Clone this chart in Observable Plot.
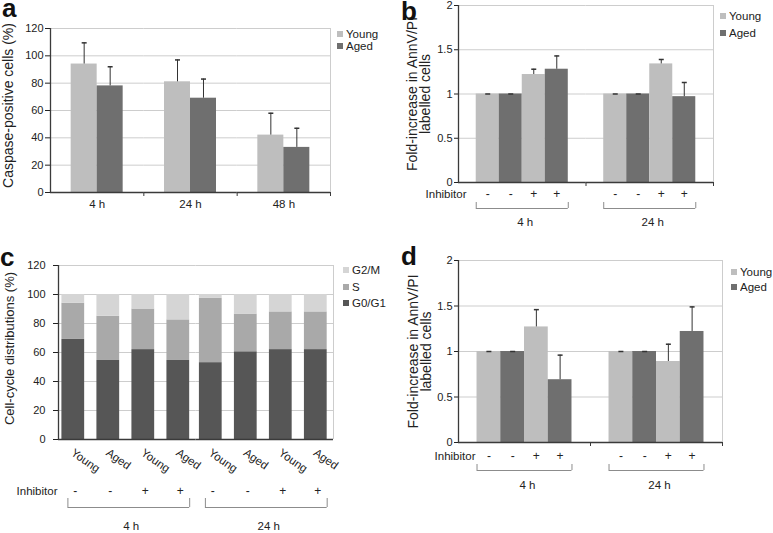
<!DOCTYPE html>
<html><head><meta charset="utf-8">
<script src="https://cdn.jsdelivr.net/npm/d3@7"></script>
<script src="https://cdn.jsdelivr.net/npm/@observablehq/plot@0.6"></script>
<style>
html,body{margin:0;padding:0;background:#fff;}
#fig{position:relative;width:773px;height:533px;overflow:hidden;background:#fff;font-family:"Liberation Sans",Arial,sans-serif;color:#222;}
.letter{position:absolute;font:bold 26px/17px "Liberation Sans",Arial,sans-serif;color:#111;}
.lg-swatches{font-family:"Liberation Sans",Arial,sans-serif;font-size:11.5px;color:#222;margin:0;}
.lg-swatch{padding-bottom:0;}
.lg-swatch > svg{margin-right:3px;}
</style></head>
<body><div id="fig"></div>
<script>
// ---------- data ----------
// Panel a
const aTimes = ["4 h", "24 h", "48 h"];
const aGroups = ["Young", "Aged"];
const aMeanYoung = [94, 81, 42];
const aErrYoung = [15.5, 16, 16];
const aMeanAged = [78, 69, 33];
const aErrAged = [14, 14, 14];
const aYTicks = [0, 20, 40, 60, 80, 100, 120];
const aYLabel = "Caspase-positive cells (%)";

// Panels b, d (4 conditions per time point)
const bTimes = ["4 h", "24 h"];
const bGroups = ["Young", "Aged", "Young", "Aged"];
const bInhibitor = ["-", "-", "+", "+"];
const bMean = [[1.00, 1.00, 1.22, 1.28], [1.00, 1.00, 1.34, 0.97]];
const bErr = [[0, 0, 0.06, 0.15], [0, 0, 0.05, 0.16]];
const dMean = [[1.00, 1.00, 1.27, 0.69], [1.00, 1.00, 0.89, 1.22]];
const dErr = [[0, 0, 0.19, 0.27], [0, 0, 0.19, 0.27]];
const bYTicks = [0, 0.5, 1, 1.5, 2];
const bYLabel = "Fold-increase in AnnV/PI\nlabelled cells";
const inhibitorLabel = "Inhibitor";

// Panel c (stacked cell-cycle distributions)
const cTimes = ["4 h", "24 h"];
const cGroups = ["Young", "Aged", "Young", "Aged"];
const cInhibitor = ["-", "-", "+", "+"];
const cPhases = ["G2/M", "S", "G0/G1"];
const cG0G1 = [69, 54.5, 62, 54.5, 53, 60.5, 62, 62];
const cS = [25, 30.5, 28, 28, 44.5, 26, 26, 26];
const cG2M = [6, 15, 10, 17.5, 2.5, 13.5, 12, 12];
const cYTicks = [0, 20, 40, 60, 80, 100, 120];
const cYLabel = "Cell-cycle distributions (%)";

// ---------- styles ----------
const FONT = '"Liberation Sans", Arial, sans-serif';
const C = {young: "#bebebe", aged: "#6f6f6f", g2m: "#d5d5d5", s: "#a9a9a9", g0: "#565656",
  grid: "#cdcdcd", axis: "#3a3a3a", err: "#333333", bracket: "#8c8c8c", text: "#222222"};
const fig = document.getElementById("fig");

function geom(width, ml, mr, nF, n, pi, po, align) {
  const F = (width - ml - mr) / nF;
  const step = F / (n - pi + 2 * po);
  const bw = step * (1 - pi);
  const start = (F - step * (n - pi)) * align;
  return {F, step, bw, leftDx: -(start + bw / 2), rightDx: F - start - (n - 1) * step - bw / 2};
}
const capSymbol = {draw(ctx, size) { const w = Math.sqrt(size / Math.PI); ctx.moveTo(-w, 0); ctx.lineTo(w, 0); }};
function place(el, left, top) { el.style.position = "absolute"; el.style.left = left + "px"; el.style.top = top + "px"; fig.appendChild(el); }
function addLegend(plot, left, top, rowH) {
  const L = plot.legend("color", {legend: "swatches", columns: 1, swatchSize: 6, className: "lg"});
  L.querySelectorAll(".lg-swatch").forEach(e => { e.style.height = rowH + "px"; e.style.paddingBottom = "0"; });
  place(L, left, top);
}
function letter(t, left, top) { const d = document.createElement("div"); d.className = "letter"; d.textContent = t; place(d, left, top); }
const baseStyle = {fontFamily: FONT, fontSize: "11px", color: C.text, background: "transparent", overflow: "visible"};
const mid = {lineAnchor: "middle"};

function axisMarks(times, keys, g, boundaryTicks) {
  const first = keys[0], last = keys[keys.length - 1];
  const m = [
    Plot.ruleY([0], {stroke: C.axis, strokeWidth: 1.3}),
    Plot.ruleX([first], {x: d => d, fx: () => times[0], dx: g.leftDx, stroke: C.axis, strokeWidth: 1.3})
  ];
  if (boundaryTicks) m.push(Plot.ruleX([last], {x: d => d, y1: 0, y2: 0, insetBottom: -4, dx: g.rightDx, stroke: C.axis}));
  return m;
}
function backMarks(times, keys, g, yTicks) {
  const last = keys[keys.length - 1];
  return [
    Plot.ruleY(yTicks.filter(v => v > 0), {stroke: C.grid}),
    Plot.ruleX([last], {x: d => d, fx: () => times[times.length - 1], dx: g.rightDx, stroke: C.grid})
  ];
}

// ---------- panel a ----------
const aData = [];
aTimes.forEach((t, i) => {
  aData.push({time: t, group: "Young", mean: aMeanYoung[i], err: aErrYoung[i]});
  aData.push({time: t, group: "Aged", mean: aMeanAged[i], err: aErrAged[i]});
});
{
  const W = 340, H = 215, ML = 50, MR = 10, MT = 28, MB = 23, PO = 0.795;
  const g = geom(W, ML, MR, 3, 2, 0, PO, 0.5);
  const plot = Plot.plot({
    width: W, height: H, marginLeft: ML, marginRight: MR, marginTop: MT, marginBottom: MB,
    style: baseStyle,
    fx: {domain: aTimes, padding: 0, round: false, axis: null, label: null},
    x: {domain: aGroups, paddingInner: 0, paddingOuter: PO, round: false, axis: null, label: null},
    y: {domain: [0, 120], ticks: aYTicks, tickSize: 5, tickPadding: 2, label: null, tickFormat: d => String(d)},
    color: {domain: aGroups, range: [C.young, C.aged]},
    marks: [
      ...backMarks(aTimes, aGroups, g, aYTicks),
      Plot.barY(aData, {fx: "time", x: "group", y: "mean", fill: "group"}),
      Plot.ruleX(aData, {fx: "time", x: "group", y1: "mean", y2: d => d.mean + d.err, stroke: C.err}),
      Plot.dot(aData, {fx: "time", x: "group", y: d => d.mean + d.err, symbol: capSymbol, r: 2.5, fill: "none", stroke: C.err}),
      ...axisMarks(aTimes, aGroups, g, true),
      Plot.text(aTimes, {fx: d => d, text: d => d, frameAnchor: "bottom", dy: 12, fontSize: 11.5, ...mid}),
      Plot.text([aYLabel], {fx: () => aTimes[0], text: d => d, frameAnchor: "left", textAnchor: "middle", rotate: -90, dx: -42, dy: -5, fontSize: 14, ...mid})
    ]
  });
  place(plot, 0, 0);
  addLegend(plot, 337, 28, 12);
}

// ---------- panels b and d ----------
function condData(means, errs) {
  const out = [];
  bTimes.forEach((t, ti) => bGroups.forEach((gr, i) => out.push({
    time: t, group: gr, inhibitor: bInhibitor[i], key: gr + " " + bInhibitor[i], mean: means[ti][i], err: errs[ti][i]})));
  return out;
}
const condKeys = bGroups.map((gr, i) => gr + " " + bInhibitor[i]);

function foldPlot(data, o) {
  const g = geom(o.W, o.ML, o.MR, 2, 4, 0, o.PO, 0.5);
  return Plot.plot({
    width: o.W, height: o.H, marginLeft: o.ML, marginRight: o.MR, marginTop: o.MT, marginBottom: o.MB,
    style: baseStyle,
    fx: {domain: bTimes, padding: 0, round: false, axis: null, label: null},
    x: {domain: condKeys, paddingInner: 0, paddingOuter: o.PO, round: false, axis: null, label: null},
    y: {domain: [0, 2], ticks: bYTicks, tickSize: 4, tickPadding: 2, label: null, tickFormat: d => String(d)},
    color: {domain: aGroups, range: [C.young, C.aged]},
    marks: [
      ...backMarks(bTimes, condKeys, g, bYTicks),
      Plot.barY(data, {fx: "time", x: "key", y: "mean", fill: "group"}),
      Plot.ruleX(data, {fx: "time", x: "key", y1: "mean", y2: d => d.mean + d.err, stroke: C.err}),
      Plot.dot(data, {fx: "time", x: "key", y: d => d.mean + d.err, symbol: capSymbol, r: 2.5, fill: "none", stroke: C.err}),
      ...axisMarks(bTimes, condKeys, g, true),
      Plot.text(data, {fx: "time", x: "key", text: "inhibitor", frameAnchor: "bottom", dy: o.signDy, fontSize: 12, ...mid}),
      Plot.text([inhibitorLabel], {fx: () => bTimes[0], text: d => d, frameAnchor: "bottom-left", textAnchor: "end", dx: o.inhDx, dy: o.signDy, fontSize: 11.5, ...mid}),
      Plot.ruleY([0], {x1: () => condKeys[0], x2: () => condKeys[3], dy: o.brDy, stroke: C.bracket}),
      Plot.ruleX([condKeys[0]], {x: d => d, y1: 0, y2: 0, insetBottom: -6, dx: -g.bw / 2, dy: o.brDy - 6, stroke: C.bracket}),
      Plot.ruleX([condKeys[3]], {x: d => d, y1: 0, y2: 0, insetBottom: -6, dx: g.bw / 2, dy: o.brDy - 6, stroke: C.bracket}),
      Plot.text(bTimes, {fx: d => d, text: d => d, frameAnchor: "bottom", dx: 3, dy: o.timeDy, fontSize: 11.5, ...mid}),
      Plot.text([bYLabel], {fx: () => bTimes[0], text: d => d, frameAnchor: "left", textAnchor: "middle", rotate: -90, dx: o.labDx, fontSize: 14, lineHeight: 0.93, ...mid})
    ]
  });
}
{
  const plot = foldPlot(condData(bMean, bErr), {W: 335, H: 235, ML: 68, MR: 12, MT: 5, MB: 53, PO: 0.77,
    signDy: 12, inhDx: 8, brDy: 26, timeDy: 40, labDx: -39});
  place(plot, 390, 0);
  addLegend(plot, 720, 7.5, 17);
}
{
  const plot = foldPlot(condData(dMean, dErr), {W: 345, H: 278, ML: 68, MR: 13, MT: 5, MB: 91, PO: 0.78,
    signDy: 14, inhDx: 17, brDy: 28, timeDy: 43, labDx: -38});
  place(plot, 390, 255);
  addLegend(plot, 731, 264.5, 15);
}

// ---------- panel c ----------
const cData = [];
cTimes.forEach((t, ti) => cGroups.forEach((gr, i) => {
  const j = ti * 4 + i;
  const key = gr + " " + cInhibitor[i];
  [["G0/G1", cG0G1[j]], ["S", cS[j]], ["G2/M", cG2M[j]]].forEach(([p, v]) =>
    cData.push({time: t, group: gr, inhibitor: cInhibitor[i], key, phase: p, value: v}));
}));
const cBars = cData.filter(d => d.phase === "G0/G1");
const cKeys = cGroups.map((gr, i) => gr + " " + cInhibitor[i]);
{
  const W = 340, H = 278, ML = 58, MR = 7, MT = 10, MB = 94, PI = 0.35, PO = 0.139, AL = 0.35;
  const g = geom(W, ML, MR, 2, 4, PI, PO, AL);
  const plot = Plot.plot({
    width: W, height: H, marginLeft: ML, marginRight: MR, marginTop: MT, marginBottom: MB,
    style: baseStyle,
    fx: {domain: cTimes, padding: 0, round: false, axis: null, label: null},
    x: {domain: cKeys, paddingInner: PI, paddingOuter: PO, align: AL, round: false, axis: null, label: null},
    y: {domain: [0, 120], ticks: cYTicks, tickSize: 5, tickPadding: 8, label: null, tickFormat: d => String(d)},
    color: {domain: cPhases, range: [C.g2m, C.s, C.g0]},
    marks: [
      ...backMarks(cTimes, cKeys, g, cYTicks),
      Plot.barY(cData, {fx: "time", x: "key", y: "value", fill: "phase"}),
      ...axisMarks(cTimes, cKeys, g, false),
      Plot.text(cBars, {fx: "time", x: "key", text: "group", frameAnchor: "bottom", rotate: 35, textAnchor: "start", dx: -1, dy: 12, fontSize: 11.5, ...mid}),
      Plot.text(cBars, {fx: "time", x: "key", text: "inhibitor", frameAnchor: "bottom", dx: 2, dy: 52, fontSize: 12, ...mid}),
      Plot.text([inhibitorLabel], {fx: () => cTimes[0], text: d => d, frameAnchor: "bottom-left", textAnchor: "end", dx: -1, dy: 52, fontSize: 11.5, ...mid}),
      Plot.ruleY([0], {x1: () => cKeys[0], x2: () => cKeys[3], insetLeft: 6, dy: 68, stroke: C.bracket}),
      Plot.ruleX([cKeys[0]], {x: d => d, y1: 0, y2: 0, insetBottom: -9, dx: -g.bw / 2 + 6, dy: 59, stroke: C.bracket}),
      Plot.ruleX([cKeys[3]], {x: d => d, y1: 0, y2: 0, insetBottom: -9, dx: g.bw / 2, dy: 59, stroke: C.bracket}),
      Plot.text(cTimes, {fx: d => d, text: d => d, frameAnchor: "bottom", dx: 4, dy: 87, fontSize: 11.5, ...mid}),
      Plot.text([cYLabel], {fx: () => cTimes[0], text: d => d, frameAnchor: "left", textAnchor: "middle", rotate: -90, dx: -49, dy: -4, fontSize: 13, ...mid})
    ]
  });
  place(plot, 0, 255);
  addLegend(plot, 343, 261.75, 16.5);
}

// ---------- panel letters ----------
letter("a", 2, 0);
letter("b", 401, 2.5);
letter("c", 0, 248.5);
letter("d", 401, 247.5);
</script></body></html>
